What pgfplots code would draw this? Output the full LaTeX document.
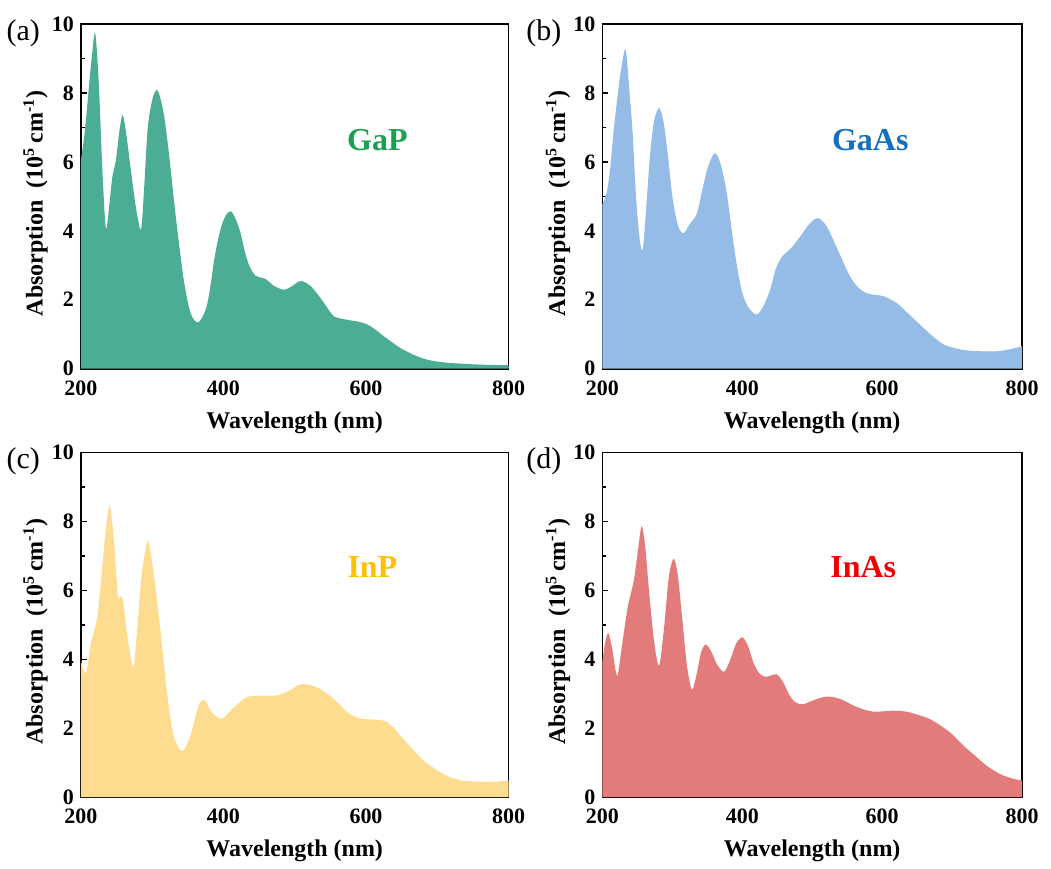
\documentclass[border=0pt]{standalone}
\usepackage{fontspec}
\setmainfont{Liberation Serif}
\usepackage{pgfplots}
\pgfplotsset{compat=1.18}

\definecolor{gapfill}{RGB}{75,174,148}
\definecolor{gaasfill}{RGB}{148,188,230}
\definecolor{inpfill}{RGB}{253,220,143}
\definecolor{inasfill}{RGB}{228,123,123}
\definecolor{gaptext}{RGB}{28,160,80}
\definecolor{gaastext}{RGB}{22,110,190}
\definecolor{inptext}{RGB}{255,192,0}
\definecolor{inastext}{RGB}{240,0,0}

\pgfplotsset{
  panel/.style={
    scale only axis,
    height=172.5pt,
    xmin=200, xmax=800, ymin=0, ymax=10,
    xtick={200,400,600,800}, ytick={0,2,4,6,8,10},
    minor xtick={300,500,700}, minor ytick={1,3,5,7,9},
    tick align=inside, xtick pos=bottom, ytick pos=left,
    major tick length=3pt, minor tick length=1.8pt,
    axis line style={line width=0.9pt}, every tick/.style={line width=0.8pt, black},
    /pgf/number format/assume math mode=true,
    tick label style={font=\fontsize{11}{13}\selectfont\bfseries},
    xticklabel style={yshift=-2.5pt},
    label style={font=\fontsize{12}{14}\selectfont\bfseries},
    xlabel={Wavelength (nm)},
    ylabel={Absorption\ \ (10\textsuperscript{5}\,cm\textsuperscript{-1})},
    xlabel style={at={(axis description cs:0.5,0)}, anchor=center, yshift=-27pt},
    ylabel style={at={(axis description cs:-0.106,0.48)}, anchor=center},
    clip=true,
  },
}
\tikzset{
  tag/.style={font=\fontsize{15}{17}\selectfont, anchor=east},
  mat/.style={font=\fontsize{16}{18}\selectfont\bfseries, anchor=center},
}

\begin{document}
\begin{tikzpicture}
\path (0,0) rectangle (525.5pt,434pt);

% (a) GaP
\begin{axis}[panel, width=214pt, at={(40pt,249.5pt)}, anchor=south west, name=pa]
\addplot[fill=gapfill, draw=none, smooth] coordinates {
(200,6.06)(205,6.8)(210,7.9)(215,9.0)(220,9.73)(225,8.3)(230,5.8)(235,4.07)(240,4.8)
(244,5.55)(249,6.04)(254,6.9)(258.4,7.36)(263,6.9)(270,5.77)(277,4.7)(284,4.03)(288,5.0)
(293.5,6.93)(300,7.8)(306.5,8.09)(312,7.8)(317,7.3)(322,6.5)(326,5.77)(331,4.8)(336,3.9)
(345,2.48)(354,1.6)(364.5,1.34)(375,1.71)(381,2.3)(387,3.16)(393,3.8)(398.6,4.23)(405,4.5)
(411,4.56)(418,4.3)(424,3.93)(430,3.4)(436,3.0)(445,2.7)(459,2.6)(471,2.4)(485,2.29)
(495,2.38)(506,2.53)(513,2.52)(522,2.4)(531,2.19)(543,1.85)(555,1.52)(573,1.42)
(590,1.36)(602,1.28)(614,1.12)(625,0.94)(637,0.76)(648,0.6)(667,0.4)(686,0.26)(710,0.18)
(742,0.135)(770,0.11)(800,0.1)
} \closedcycle;
\node[mat, text=gaptext] at (axis cs:616,6.64) {GaP};
\end{axis}
\node[tag] at ([xshift=-17pt, yshift=-4.5pt]pa.north west) {(a)};

% (b) GaAs
\begin{axis}[panel, width=210pt, at={(301pt,249.5pt)}, anchor=south west, name=pb]
\addplot[fill=gaasfill, draw=none, smooth] coordinates {
(200,4.77)(206,5.1)(211,5.8)(216,6.9)(221,7.8)(226,8.6)(233,9.27)(238,8.2)(243,6.9)
(248,5.0)(253,3.8)(257.5,3.45)(262,4.5)(268,6.2)(274,7.2)(281,7.56)(287,7.2)(293,6.3)
(300,5.0)(308,4.15)(316,3.93)(325,4.2)(335,4.5)(343,5.2)(350,5.8)(360,6.25)(368,6.0)
(377,5.2)(385,4.0)(393,2.9)(400,2.2)(408,1.8)(420,1.57)(430,1.8)(440,2.3)(448,2.9)
(457,3.25)(470,3.5)(483,3.84)(496,4.2)(508,4.37)(520,4.15)(530,3.74)(542,3.2)(554,2.68)
(566,2.35)(578,2.19)(590,2.14)(602,2.1)(621,1.9)(637,1.6)(654,1.28)(670,0.98)(688,0.7)
(707,0.58)(726,0.52)(759,0.5)(780,0.55)(800,0.65)
} \closedcycle;
\node[mat, text=gaastext] at (axis cs:583,6.64) {GaAs};
\end{axis}
\node[tag] at ([xshift=-17pt, yshift=-4.5pt]pb.north west) {(b)};

% (c) InP
\begin{axis}[panel, width=214pt, at={(40pt,35pt)}, anchor=south west, name=pc]
\addplot[fill=inpfill, draw=none, smooth] coordinates {
(200,3.96)(207,3.6)(214,4.47)(223,5.25)(230,6.7)(235,7.8)(240.5,8.45)(246.5,7.4)
(252,5.85)(258,5.8)(265,4.7)(273.5,3.76)(279,4.9)(284,6.2)(289,7.0)(294.5,7.43)(302,6.5)
(311.5,4.85)(321,3.0)(330,1.78)(342,1.34)(353.5,1.78)(365,2.65)(373.5,2.82)(384,2.45)
(398,2.28)(414,2.6)(432.5,2.9)(451,2.95)(474,2.95)(493,3.1)(505,3.26)(515,3.28)
(530,3.2)(546,3.0)(560,2.75)(574,2.46)(587,2.32)(597,2.27)(625,2.22)(637,2.05)(648,1.79)
(665,1.4)(681,1.06)(700,0.78)(718,0.58)(736,0.48)(756,0.45)(780,0.45)(800,0.48)
} \closedcycle;
\node[mat, text=inptext] at (axis cs:609,6.67) {InP};
\end{axis}
\node[tag] at ([xshift=-17pt, yshift=-4.5pt]pc.north west) {(c)};

% (d) InAs
\begin{axis}[panel, width=210pt, at={(301pt,35pt)}, anchor=south west, name=pd]
\addplot[fill=inasfill, draw=none, smooth] coordinates {
(200,3.95)(204,4.5)(208.5,4.76)(214,4.3)(221,3.53)(228,4.4)(236,5.5)(245,6.3)(251,7.2)
(256,7.86)(261,7.3)(267,5.9)(274,4.5)(281,3.82)(288,4.9)(295,6.4)(302,6.92)(308,6.4)
(314,5.2)(321,3.8)(328,3.12)(335,3.6)(341,4.2)(347.5,4.43)(355,4.25)(364,3.85)(374,3.64)
(383,4.0)(391,4.45)(400,4.64)(408,4.4)(416,3.9)(424,3.6)(432,3.5)(440,3.52)(449,3.57)
(458,3.35)(468,2.94)(477,2.74)(487.5,2.7)(500,2.8)(512,2.88)(523,2.92)(540,2.85)
(559,2.66)(573,2.55)(587.5,2.48)(600,2.49)(616,2.51)(635,2.48)(654,2.37)(670,2.25)
(687,2.03)(700,1.83)(716,1.5)(733,1.2)(749,0.92)(762,0.75)(773,0.63)(787,0.54)(800,0.48)
} \closedcycle;
\node[mat, text=inastext] at (axis cs:573,6.67) {InAs};
\end{axis}
\node[tag] at ([xshift=-17pt, yshift=-4.5pt]pd.north west) {(d)};
\end{tikzpicture}
\end{document}
